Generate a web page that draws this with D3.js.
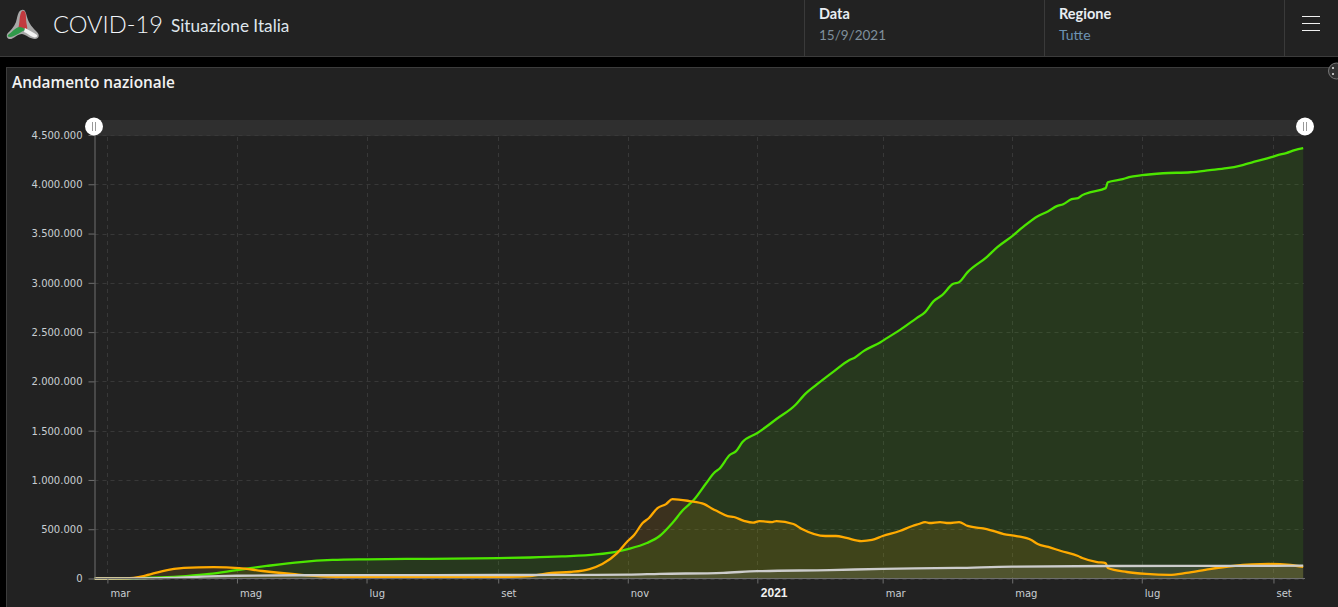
<!DOCTYPE html>
<html lang="it">
<head>
<meta charset="utf-8">
<title>COVID-19 Situazione Italia</title>
<script src="https://cdn.jsdelivr.net/npm/d3@7"></script>
<style>
html,body{margin:0;padding:0;background:#000;overflow:hidden}
svg{display:block}
text{font-family:"DejaVu Sans",sans-serif}
.head{font-family:Lato,sans-serif}
.wide{font-family:"Open Sans",sans-serif}
.yr{font-family:"Liberation Sans",sans-serif}
</style>
</head>
<body>
<svg id="c" width="1338" height="607"></svg>
<script>
// Days since 1 March 2020; values in thousands
const startDate = new Date(2020, 2, 1);
const monthNames = ["gen","feb","mar","apr","mag","giu","lug","ago","set","ott","nov","dic"];
const yTicks = [0,500000,1000000,1500000,2000000,2500000,3000000,3500000,4000000,4500000];

const guaritiDays = [-6,9,25,37,48,61,75,91,106,122,152,184,199,214,230,241,245,254,260,266,271,276,282,286,288,293,296,299,306,315,324,328,334,342,349,352,356,364,367,373,381,385,389,393,398,401,405,414,419,426,431,438,443,447,450,454,457,459,463,470,471,478,481,487,497,510,519,527,534,541,548,551,555,559,563];
const guaritiValues = [0,1,10,25,46,86,127,167,188,195,200,207,213,224,244,279,299,360,431,563,695,796,969,1080,1111,1253,1293,1384,1476,1618,1763,1861,1969,2102,2213,2243,2307,2398,2439,2520,2642,2703,2814,2875,2987,3007,3109,3261,3362,3474,3565,3676,3727,3778,3798,3849,3859,3890,3920,3961,4021,4052,4072,4092,4112,4122,4143,4163,4193,4234,4275,4295,4316,4346,4366];

const positiviDays = [-6,9,17,26,36,50,62,73,87,103,122,152,184,199,209,218,227,233,240,245,248,252,255,259,263,266,274,281,285,287,292,295,300,304,307,313,315,323,327,338,343,348,355,360,365,373,379,382,385,387,392,396,401,405,414,422,428,435,438,443,449,457,459,466,470,471,480,489,500,508,519,530,547,557,563];
const positiviValues = [0,2,25,76,107,116,106,76,46,20,13,13,15,25,56,66,96,147,258,380,441,563,614,715,755,806,786,755,705,684,634,624,583,567,583,573,583,553,502,431,431,411,380,391,431,482,533,553,573,563,573,563,573,533,502,451,431,391,350,320,279,228,208,167,157,106,66,46,36,56,96,127,147,137,117];

const decedutiDays = [-6,9,30,48,61,90,122,184,230,245,260,290,306,340,365,400,426,470,549,563];
const decedutiValues = [0,0.5,6,22,28,33,35,35.5,37,39,47,58,74,85,98,107,121,127,129,130];

const dateOf = d => d3.timeDay.offset(startDate, d);
const toRows = (days, vals) => days.map((d,i)=>({date:dateOf(d), value:vals[i]*1000}));
const guariti = toRows(guaritiDays, guaritiValues);
const positivi = toRows(positiviDays, positiviValues);
const deceduti = toRows(decedutiDays, decedutiValues);

const svg = d3.select("#c");
const x = d3.scaleTime().domain([dateOf(-6), dateOf(563)]).range([94.66, 1303.2]);
const y = d3.scaleLinear().domain([0,4500000]).range([578.5, 135]);

// page frame
svg.append("rect").attr("width",1338).attr("height",607).attr("fill","#000");
svg.append("rect").attr("width",1338).attr("height",56).attr("fill","#222");
svg.append("line").attr("x1",0).attr("x2",1338).attr("y1",56.5).attr("y2",56.5).attr("stroke","#3c3c3c");
svg.append("rect").attr("x",6.5).attr("y",67.5).attr("width",1340).attr("height",550).attr("fill","#222").attr("stroke","#3c3c3c");

// header dividers
[804.5,1044.5,1284.5].forEach(v=>svg.append("line").attr("x1",v).attr("x2",v).attr("y1",0).attr("y2",56).attr("stroke","#3a3a3a"));

// logo
const logo = svg.append("g");
logo.append("path").attr("d","M22 10 C25 9 26 13 27 17 C29 24 33 28 37 32 C40 35 39 39 35 39 C30 39 27 35 22 34 C17 34 13 40 9 39 C6 38 6 34 9 32 C13 28 16 24 17 18 C18 14 19 10 22 10Z").attr("fill","#a8a8a8");
logo.append("path").attr("d","M22 11 C25 10 26 13 26 18 C26 24 28 27 27 30 C24 28 21 27 18 29 C20 24 19 14 22 11Z").attr("fill","#c23a3f");
logo.append("path").attr("d","M8 35 C12 32 15 28 19 27 C22 27 24 28 26 30 C21 31 15 37 10 37 C8 37 7 36 8 35Z").attr("fill","#2f9a4a");
logo.append("path").attr("d","M25 28 C29 30 34 33 37 35 C38 37 35 38 33 37 C30 36 27 33 24 32Z").attr("fill","#f4f4f4");

// header text
svg.append("text").attr("class","head").attr("x",53).attr("y",33).attr("font-size",23.7).attr("font-weight",300).attr("fill","#f2f6fa").text("COVID-19");
svg.append("text").attr("class","head").attr("x",171).attr("y",32).attr("font-size",17.2).attr("fill","#dfe6ec").text("Situazione Italia");
svg.append("text").attr("class","head").attr("x",819).attr("y",19).attr("font-size",14.5).attr("font-weight",700).attr("fill","#e8edf2").text("Data");
svg.append("text").attr("class","head").attr("x",819).attr("y",40).attr("font-size",13.5).attr("fill","#7f8f9c").text("15/9/2021");
svg.append("text").attr("class","head").attr("x",1059).attr("y",19).attr("font-size",14.5).attr("font-weight",700).attr("fill","#e8edf2").text("Regione");
svg.append("text").attr("class","head").attr("x",1059).attr("y",40).attr("font-size",14).attr("fill","#6d93b3").text("Tutte");
[16,23,30].forEach(v=>svg.append("line").attr("x1",1302).attr("x2",1320).attr("y1",v+.5).attr("y2",v+.5).attr("stroke","#f0f0f0"));
svg.append("text").attr("class","wide").attr("x",12).attr("y",88).attr("font-size",15.4).attr("font-weight",600).attr("fill","#f2f2f2").text("Andamento nazionale");

// small corner button
const btn = svg.append("g");
btn.append("circle").attr("cx",1336.5).attr("cy",71).attr("r",8).attr("fill","#333").attr("stroke","#777");
[[1333,68],[1339,68],[1333,74],[1339,74]].forEach(p=>btn.append("rect").attr("x",p[0]-1).attr("y",p[1]-1).attr("width",2).attr("height",2).attr("fill","#bbb"));

// slider background
svg.append("rect").attr("x",94).attr("y",120).attr("width",1211).attr("height",16).attr("fill","#2f2f2f");

// grid
const monthTicks = d3.timeMonth.every(2).range(dateOf(-1), dateOf(564));
svg.append("g").selectAll("line").data(yTicks).join("line")
  .attr("x1",94.5).attr("x2",1304).attr("y1",d=>Math.round(y(d))+.5).attr("y2",d=>Math.round(y(d))+.5)
  .attr("stroke","#383838").attr("stroke-dasharray","4 4");
svg.append("g").selectAll("line").data(monthTicks).join("line")
  .attr("x1",d=>Math.round(x(d))+.5).attr("x2",d=>Math.round(x(d))+.5).attr("y1",137).attr("y2",578)
  .attr("stroke","#383838").attr("stroke-dasharray","4 4");

// series
const area = d3.area().x(d=>x(d.date)).y0(y(0)).y1(d=>y(d.value)).curve(d3.curveMonotoneX);
const line = d3.line().x(d=>x(d.date)).y(d=>y(d.value)).curve(d3.curveMonotoneX);
const series = [
  {rows:guariti, color:"#4ce600", fill:"rgba(76,230,0,0.115)"},
  {rows:positivi, color:"#ffaa00", fill:"rgba(255,170,0,0.115)"},
  {rows:deceduti, color:"#cccccc", fill:"rgba(204,204,204,0.12)"}
];
series.forEach(s=>svg.append("path").attr("d",area(s.rows)).attr("fill",s.fill));
series.forEach(s=>svg.append("path").attr("d",line(s.rows)).attr("fill","none").attr("stroke",s.color).attr("stroke-width",2.3));

// axes
const itFormat = d3.formatLocale({decimal:",",thousands:".",grouping:[3],currency:["€",""]}).format(",d");
const yAxis = svg.append("g").attr("transform","translate(94.5,0)")
  .call(d3.axisLeft(y).tickValues(yTicks).tickFormat(itFormat).tickSize(6).tickPadding(6));
yAxis.attr("font-family",null);
yAxis.select(".domain").attr("d","M0.5,127V578.5").attr("stroke","#6e6e6e");
yAxis.selectAll(".tick line").attr("stroke","#6e6e6e");
yAxis.selectAll("text").attr("font-size",10).attr("fill","#c9ced2").attr("dy","0.34em");

const xLabel = d => d.getMonth()===0 ? String(d.getFullYear()) : monthNames[d.getMonth()];
const xAxis = svg.append("g").attr("transform","translate(0,578.5)")
  .call(d3.axisBottom(x).tickValues(monthTicks).tickFormat(xLabel).tickSize(5));
xAxis.attr("font-family",null);
xAxis.select(".domain").attr("d","M94.5,0H1305").attr("stroke","#6e6e6e");
xAxis.selectAll(".tick line").attr("stroke","#6e6e6e");
xAxis.selectAll("text")
  .attr("class",d=>d.getMonth()===0?"yr":null)
  .attr("text-anchor","start").attr("x",d=>d.getMonth()===0?3:2.5).attr("y",18).attr("dy",0)
  .attr("font-size",d=>d.getMonth()===0?12:10)
  .attr("font-weight",d=>d.getMonth()===0?700:400)
  .attr("fill",d=>d.getMonth()===0?"#f0f0f0":"#c9ced2");

// slider handles
[[94,0],[1305,1]].forEach(h=>{
  const g = svg.append("g").attr("transform",`translate(${h[0]},126.5)`);
  g.append("circle").attr("r",9).attr("fill","#fff");
  [-1.5,1.5].forEach(o=>g.append("line").attr("x1",o).attr("x2",o).attr("y1",-4.5).attr("y2",4.5).attr("stroke","#999"));
});
</script>
</body>
</html>
